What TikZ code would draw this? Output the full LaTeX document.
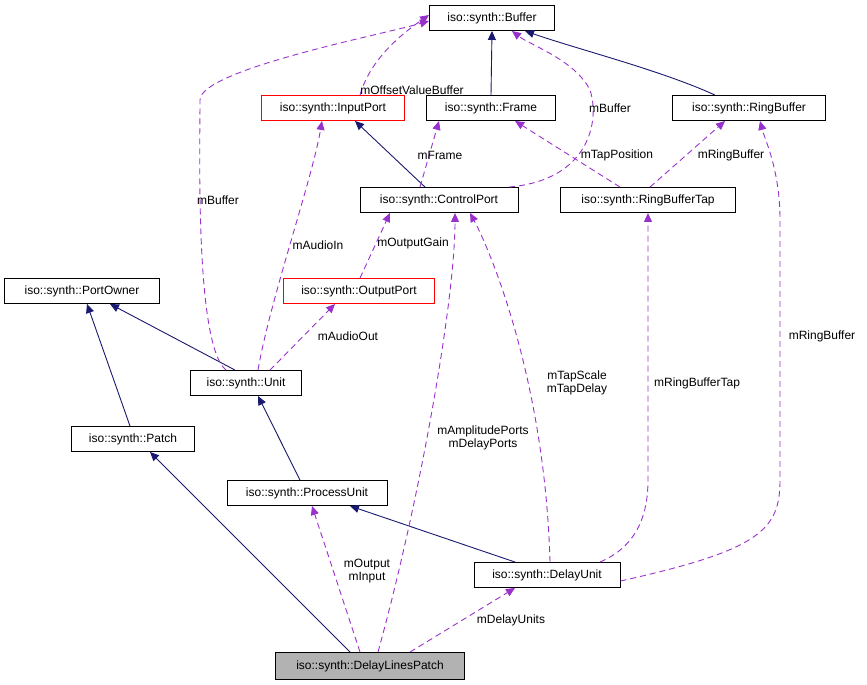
\documentclass[tikz,border=0pt]{standalone}
\usepackage{fontspec}
\setmainfont{Liberation Sans}
\usetikzlibrary{arrows.meta}
\definecolor{navy}{RGB}{25,25,112}
\definecolor{usecol}{RGB}{153,50,204}
\begin{document}
\begin{tikzpicture}[x=1pt,y=-1pt,font=\fontsize{12}{13.5}\selectfont,line width=0.9pt]
		\tikzstyle{cls}=[draw,inner sep=0pt,minimum height=25pt,anchor=center]
		\tikzstyle{redcls}=[cls,draw=red]
		\tikzstyle{inherit}=[navy,-{Triangle[length=9pt,width=8pt]}]
		\tikzstyle{uses}=[usecol,dashed,dash pattern=on 6pt off 4pt,-{Triangle[length=9pt,width=8pt]}]
		\tikzstyle{lbl}=[align=center,inner sep=1pt]

		\useasboundingbox (0,0) rectangle (867,685);

		\node[cls,minimum width=125pt] (buffer) at (492,18) {iso::synth::Buffer};
		\node[redcls,minimum width=143pt] (inport) at (333,108) {iso::synth::InputPort};
		\node[cls,minimum width=129pt] (frame) at (491,108) {iso::synth::Frame};
		\node[cls,minimum width=153pt] (ringbuf) at (749,108) {iso::synth::RingBuffer};
		\node[cls,minimum width=158pt] (cport) at (439,200) {iso::synth::ControlPort};
		\node[cls,minimum width=175pt] (rbtap) at (648,200) {iso::synth::RingBufferTap};
		\node[cls,minimum width=155pt] (powner) at (82,291) {iso::synth::PortOwner};
		\node[redcls,minimum width=151pt] (outport) at (359,291) {iso::synth::OutputPort};
		\node[cls,minimum width=111pt] (unit) at (246,383) {iso::synth::Unit};
		\node[cls,minimum width=123pt] (patch) at (133,439) {iso::synth::Patch};
		\node[cls,minimum width=160pt] (punit) at (307,493) {iso::synth::ProcessUnit};
		\node[cls,minimum width=146pt] (dunit) at (547,575) {iso::synth::DelayUnit};
		\node[cls,fill=black!30,minimum width=189pt,minimum height=27pt] (dlpatch) at (370,666) {iso::synth::DelayLinesPatch};

		% inheritance
		\draw[inherit] (frame.north) -- (buffer.south);
		\draw[inherit] ([xshift=-34pt]ringbuf.north) .. controls (660,70) and (580,50) .. ([xshift=33pt]buffer.south);
		\draw[inherit] ([xshift=-14pt]cport.north) -- ([xshift=22pt]inport.south);
		\draw[inherit] ([xshift=-11pt]unit.north) -- ([xshift=28pt]powner.south);
		\draw[inherit] ([xshift=-3pt]patch.north) -- ([xshift=5pt]powner.south);
		\draw[inherit] ([xshift=-7pt]punit.north) -- ([xshift=12pt]unit.south);
		\draw[inherit] ([xshift=-32pt]dunit.north) -- ([xshift=43pt]punit.south);
		\draw[inherit] ([xshift=-20pt]dlpatch.north) -- ([xshift=17pt]patch.south);

		% usage
		\draw[uses] ([xshift=27pt]inport.north) .. controls (370,60) and (400,35) .. ([yshift=3pt]buffer.west);
		\node[lbl] at (412,90) {mOffsetValueBuffer};
		\draw[uses] ([xshift=-20pt]unit.north) .. controls (195,345) and (200,150) .. (200,100) .. controls (200,70) and (380,35) .. ([yshift=-3pt]buffer.west);
		\node[lbl] at (218,200) {mBuffer};
		\draw[uses] ([xshift=70pt]cport.north) .. controls (590,180) and (600,120) .. (590,90) .. controls (575,60) and (530,45) .. ([xshift=20pt]buffer.south);
		\node[lbl] at (610,108) {mBuffer};
		\draw[uses] ([xshift=-19pt]cport.north) -- ([xshift=-52pt]frame.south);
		\node[lbl] at (440,155) {mFrame};
		\draw[uses] ([xshift=-28pt]rbtap.north) -- ([xshift=24pt]frame.south);
		\node[lbl] at (617,155) {mTapPosition};
		\draw[uses] ([xshift=2pt]rbtap.north) -- ([xshift=-24pt]ringbuf.south);
		\node[lbl] at (731,155) {mRingBuffer};
		\draw[uses] ([xshift=12pt]unit.north) .. controls (270,300) and (312,180) .. ([xshift=-11pt]inport.south);
		\node[lbl] at (318,245) {mAudioIn};
		\draw[uses] ([xshift=1pt]outport.north) -- ([xshift=-49pt]cport.south);
		\node[lbl] at (413,243) {mOutputGain};
		\draw[uses] ([xshift=24pt]unit.north) -- ([xshift=-24pt]outport.south);
		\node[lbl] at (348,336) {mAudioOut};
		\draw[uses] ([xshift=8pt]dlpatch.north) .. controls (420,500) and (455,300) .. ([xshift=16pt]cport.south);
		\node[lbl] at (483,438) {mAmplitudePorts\\mDelayPorts};
		\draw[uses] ([xshift=3pt]dunit.north) .. controls (545,380) and (490,250) .. ([xshift=31pt]cport.south);
		\node[lbl] at (577,383) {mTapScale\\mTapDelay};
		\draw[uses] ([xshift=53pt]dunit.north) .. controls (640,545) and (648,510) .. (648,480) -- (rbtap.south);
		\node[lbl] at (697,383) {mRingBufferTap};
		\draw[uses] ([yshift=-6pt]dunit.east) .. controls (760,550) and (780,530) .. (780,480) -- (780,220) .. controls (780,170) and (765,140) .. ([xshift=11pt]ringbuf.south);
		\node[lbl] at (822,336) {mRingBuffer};
		\draw[uses] ([xshift=-10pt]dlpatch.north) -- ([xshift=5pt]punit.south);
		\node[lbl] at (367,571) {mOutput\\mInput};
		\draw[uses] ([xshift=40pt]dlpatch.north) -- ([xshift=-32pt]dunit.south);
		\node[lbl] at (511,620) {mDelayUnits};
	\end{tikzpicture}
\end{document}
